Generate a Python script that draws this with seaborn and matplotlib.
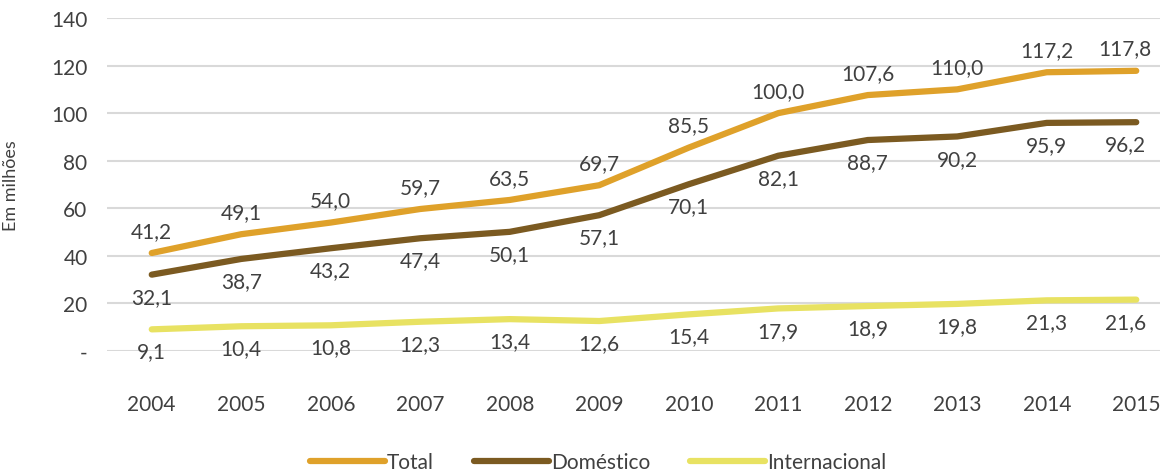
import matplotlib
matplotlib.use("Agg")
import matplotlib.pyplot as plt
import seaborn as sns
import pandas as pd

years = ["2004", "2005", "2006", "2007", "2008", "2009",
         "2010", "2011", "2012", "2013", "2014", "2015"]
total = [41.2, 49.1, 54.0, 59.7, 63.5, 69.7, 85.5, 100.0, 107.6, 110.0, 117.2, 117.8]
domestico = [32.1, 38.7, 43.2, 47.4, 50.1, 57.1, 70.1, 82.1, 88.7, 90.2, 95.9, 96.2]
internacional = [9.1, 10.4, 10.8, 12.3, 13.4, 12.6, 15.4, 17.9, 18.9, 19.8, 21.3, 21.6]
series = ["Total", "Doméstico", "Internacional"]
yticks = [0, 20, 40, 60, 80, 100, 120, 140]
ytick_labels = ["-", "20", "40", "60", "80", "100", "120", "140"]

colors = {"Total": "#DFA12A", "Doméstico": "#7B5A21", "Internacional": "#E8E262"}
label_offset = {"Total": 16, "Doméstico": -16, "Internacional": -16}

df = pd.DataFrame({
    "ano": years * 3,
    "valor": total + domestico + internacional,
    "serie": [s for s in series for _ in years],
})
df["x"] = df["ano"].map({y: i for i, y in enumerate(years)})

sns.set_style("white")
plt.rcParams["font.family"] = ["Lato", "DejaVu Sans"]
txt = "#404040"

fig = plt.figure(figsize=(11.6, 4.77), dpi=100)
ax = fig.add_axes([107 / 1160, 125 / 477, 1074 / 1160, 333 / 477])

sns.lineplot(data=df, x="x", y="valor", hue="serie", hue_order=series,
             palette=colors, linewidth=4.5, ax=ax, legend=True,
             solid_capstyle="round", solid_joinstyle="round")

last = len(years) - 1
for s in series:
    sub = df[df["serie"] == s]
    for xv, v in zip(sub["x"], sub["valor"]):
        dx = -8 if xv == last else 0
        ax.annotate(f"{v:.1f}".replace(".", ","), (xv, v),
                    xytext=(dx, label_offset[s]), textcoords="offset points",
                    ha="center", va="center", fontsize=15, color=txt)

ax.set_xlim(-0.5, 11.5)
ax.set_ylim(0, 140)
ax.set_xticks(range(len(years)))
ax.set_xticklabels(years, fontsize=15, color=txt)
ax.set_yticks(yticks)
ax.set_yticklabels(ytick_labels, fontsize=15, color=txt)
ax.tick_params(axis="y", length=0, pad=14)
ax.tick_params(axis="x", length=0, pad=31)
ax.grid(axis="y", color="#D9D9D9", linewidth=1.5)
ax.set_axisbelow(True)
for sp in ax.spines.values():
    sp.set_visible(False)
ax.set_xlabel("")
ax.set_ylabel("Em milhões", fontsize=13, color=txt)
ax.yaxis.set_label_coords(-88 / 1074, 0.5)

handles, labels = ax.get_legend_handles_labels()
ax.legend(handles, labels, loc="center", bbox_to_anchor=(598 / 1160, 14 / 477),
          bbox_transform=fig.transFigure, ncol=3, frameon=False,
          fontsize=15, handlelength=3.6, handletextpad=0.1, columnspacing=1.9,
          labelcolor=txt)

fig.savefig("out.png", dpi=100)
